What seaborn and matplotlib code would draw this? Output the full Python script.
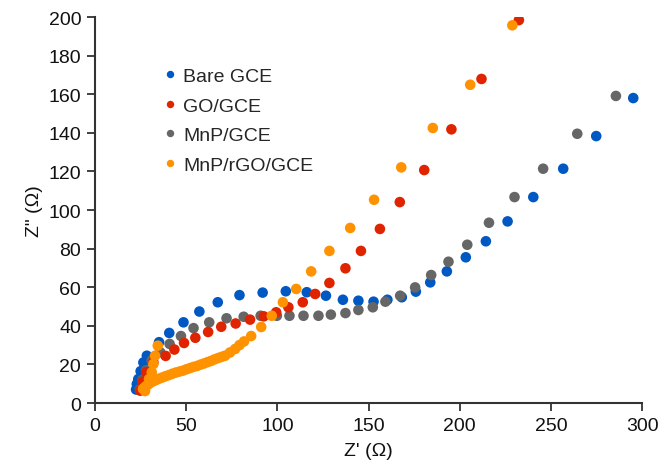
import matplotlib
matplotlib.use("Agg")
import matplotlib.pyplot as plt
import seaborn as sns
import pandas as pd

# Nyquist data, Z' and Z'' in ohms
bare_zre = [22.5, 22.9, 23.7, 25.0, 26.5, 28.4, 35.1, 40.7, 48.5, 57.2, 67.3, 79.2, 91.9,
            104.6, 116.1, 126.6, 135.9, 144.4, 152.7, 160.3, 168.2, 175.9, 183.8, 192.9,
            203.3, 214.3, 226.2, 240.3, 256.7, 274.8, 295.1]
bare_zim = [7.0, 9.8, 12.4, 16.5, 21.0, 24.5, 31.5, 36.3, 41.8, 47.4, 52.2, 55.9, 57.2,
            57.9, 57.4, 55.6, 53.5, 53.0, 52.5, 53.5, 54.8, 57.7, 62.5, 68.2,
            75.5, 83.8, 94.1, 106.7, 121.4, 138.3, 158.0]

go_zre = [24.7, 26.0, 28.0, 32.0, 38.7, 43.5, 48.8, 55.0, 62.0, 69.2, 77.1, 85.0, 92.5,
          99.3, 106.0, 113.9, 120.7, 128.5, 137.3, 145.8, 156.2, 167.1, 180.5, 195.4,
          211.9, 232.4]
go_zim = [6.4, 11.0, 16.0, 21.1, 24.4, 27.7, 31.1, 33.8, 36.8, 39.5, 41.2, 43.2, 44.9,
          47.0, 49.6, 52.2, 56.5, 62.2, 69.8, 78.8, 90.2, 104.1, 120.7, 141.8,
          167.9, 198.4]

mnp_zre = [24.5, 26.0, 28.0, 31.0, 35.7, 40.9, 47.1, 54.0, 62.6, 72.1, 81.5, 90.8, 99.7,
           106.6, 114.3, 122.5, 129.3, 137.3, 144.4, 152.3, 159.2, 167.3, 175.5, 184.3,
           193.8, 204.1, 216.0, 230.0, 245.7, 264.4, 285.6]
mnp_zim = [7.0, 12.0, 17.0, 22.0, 26.3, 30.6, 34.7, 38.8, 41.8, 43.9, 44.7, 45.2, 45.2,
           45.2, 45.2, 45.2, 45.8, 46.6, 48.2, 49.6, 52.5, 55.6, 59.9, 66.3,
           73.2, 82.0, 93.4, 106.7, 121.4, 139.5, 159.1]

rgo_zre = [34.4, 32.9, 32.0, 31.1, 29.6, 27.4, 26.3, 27.2, 28.0, 29.1, 30.2, 31.8, 33.5,
           35.1, 36.8, 38.7, 40.6, 42.5, 44.4, 46.3, 48.3, 50.2, 52.1, 54.0, 56.0, 57.9,
           59.8, 61.7, 63.6, 65.5, 67.5, 69.4, 71.3, 74.0, 76.8, 79.2, 81.7, 85.6, 91.1,
           96.9, 103.0, 110.3, 118.5, 128.5, 139.9, 153.0, 167.9, 185.2, 205.7, 228.8]
rgo_zim = [29.7, 24.5, 20.2, 15.9, 12.4, 6.2, 7.3, 8.0, 8.8, 9.6, 10.4, 11.2, 11.9,
           12.6, 13.2, 13.9, 14.5, 15.2, 15.8, 16.3, 16.8, 17.5, 18.1, 18.7, 19.2, 19.9,
           20.5, 21.2, 21.8, 22.6, 23.3, 23.9, 24.5, 26.2, 28.0, 30.0, 31.9, 34.7, 39.4,
           45.2, 52.2, 59.1, 68.2, 78.8, 90.7, 105.3, 122.1, 142.5, 164.9, 195.7]

labels = ["Bare GCE", "GO/GCE", "MnP/GCE", "MnP/rGO/GCE"]
colors = ["#0058c2", "#e02400", "#666666", "#ff9200"]

frames = {
    "Bare GCE": (bare_zre, bare_zim),
    "GO/GCE": (go_zre, go_zim),
    "MnP/GCE": (mnp_zre, mnp_zim),
    "MnP/rGO/GCE": (rgo_zre, rgo_zim),
}
# stacking order of the dots: bare, MnP, GO, MnP/rGO on top
draw_order = ["Bare GCE", "MnP/GCE", "GO/GCE", "MnP/rGO/GCE"]
df = pd.concat(
    [pd.DataFrame({"zre": frames[k][0], "zim": frames[k][1], "electrode": k}) for k in draw_order],
    ignore_index=True,
)

sns.set_theme(style="ticks")
plt.rcParams["font.family"] = ["Liberation Sans", "DejaVu Sans"]

fig = plt.figure(figsize=(6.6, 4.64), dpi=100)
ax = fig.add_axes([0.144, 0.1293, 0.829, 0.8319])

sns.scatterplot(
    data=df, x="zre", y="zim", hue="electrode", hue_order=labels,
    palette=dict(zip(labels, colors)), s=58, linewidth=0, ax=ax, legend=True,
)

ax.set_xlim(0, 300)
ax.set_ylim(0, 200)
ax.set_xticks(range(0, 301, 50))
ax.set_yticks(range(0, 201, 20))
ax.set_xlabel("Z' (\u03a9)", fontsize=14, color="#111111", labelpad=6)
ax.set_ylabel("Z\" (\u03a9)", fontsize=14, color="#111111", labelpad=4)
ax.tick_params(axis="both", direction="out", length=6, width=1.3, labelsize=14,
               colors="#333333", labelcolor="#111111", pad=4)
for side in ("top", "right"):
    ax.spines[side].set_visible(False)
for side in ("left", "bottom"):
    ax.spines[side].set_linewidth(1.5)
    ax.spines[side].set_color("#333333")

handles, _ = ax.get_legend_handles_labels()
leg = ax.legend(
    handles=handles, labels=labels, loc="upper left", bbox_to_anchor=(0.119, 0.869),
    frameon=False, fontsize=14, markerscale=0.7, handlelength=1.0, handletextpad=0.2,
    labelspacing=0.61, borderaxespad=0, borderpad=0,
)

fig.savefig("out.png", dpi=100)
